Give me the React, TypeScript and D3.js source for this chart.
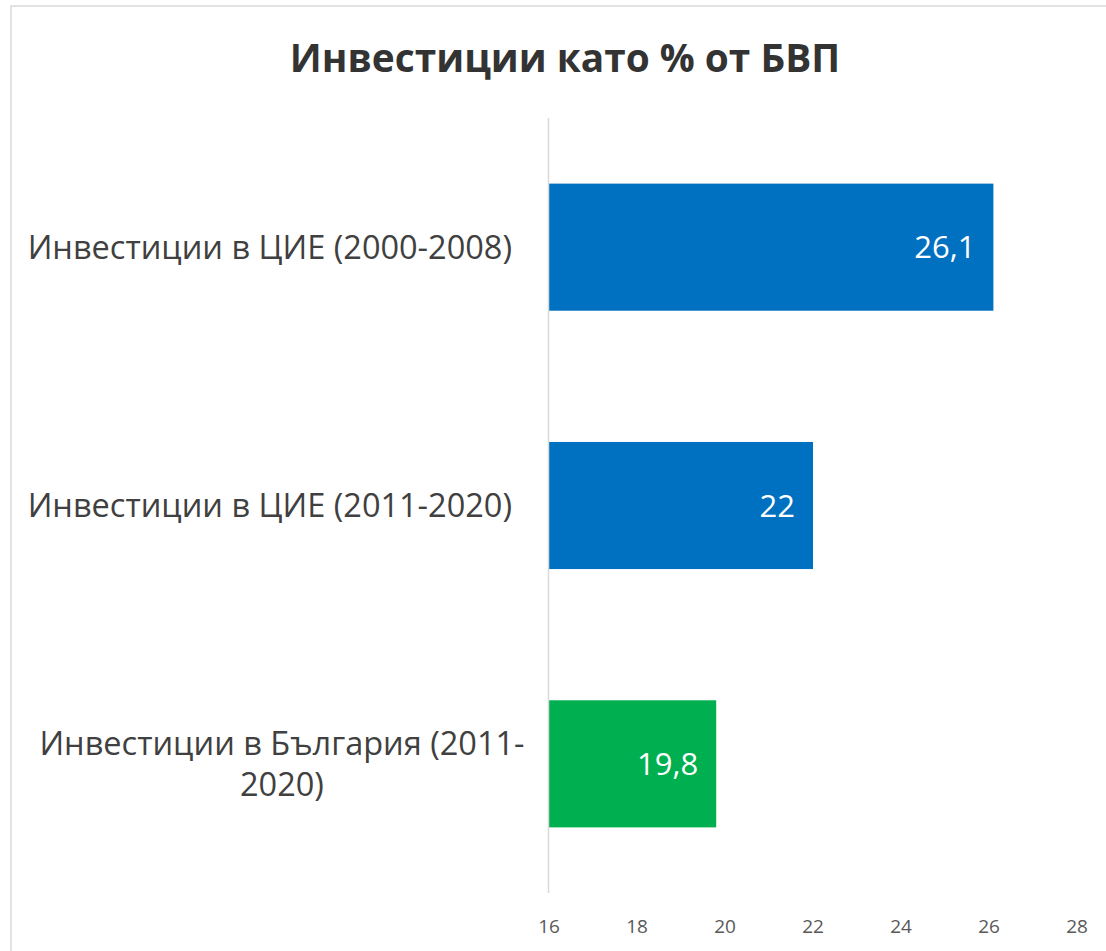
import React from "react";
import * as d3 from "d3";

const title = "Инвестиции като % от БВП";
const categories = [
  "Инвестиции в ЦИЕ (2000-2008)",
  "Инвестиции в ЦИЕ (2011-2020)",
  "Инвестиции в България (2011-2020)",
];
const values = [26.1, 22, 19.8];
const valueLabels = ["26,1", "22", "19,8"];
const barColors = ["#0070C0", "#0070C0", "#00B050"];
const xTicks = [16, 18, 20, 22, 24, 26, 28];

const W = 1106;
const H = 951;
const FONT = "'Open Sans', 'DejaVu Sans', sans-serif";

function wrapLabel(s: string): string[] {
  if (s.length <= 30) return [s];
  const i = s.lastIndexOf("-");
  return [s.slice(0, i + 1), s.slice(i + 1)];
}

export default function App() {
  const x = d3.scaleLinear().domain([16, 28]).range([549, 1077]);
  const y = d3
    .scaleBand<string>()
    .domain(categories)
    .range([118, 893])
    .paddingInner(0.508)
    .paddingOuter(0.254);

  return (
    <svg
      width={W}
      height={H}
      style={{ position: "absolute", left: 0, top: 0, background: "#fff" }}
    >
      <rect x={11} y={6} width={1200} height={1000} fill="#fff" stroke="#d9d9d9" strokeWidth={1.5} />
      <text
        x={565}
        y={72}
        textAnchor="middle"
        fontFamily={FONT}
        fontWeight={700}
        fontSize={38.8}
        fill="#333333"
      >
        {title}
      </text>
      {categories.map((c, i) => {
        const y0 = y(c)!;
        const bw = y.bandwidth();
        const cy = y0 + bw / 2;
        const lines = wrapLabel(c);
        return (
          <g key={c}>
            <rect
              x={x(16)}
              y={y0}
              width={x(values[i]) - x(16)}
              height={bw}
              fill={barColors[i]}
            />
            <text
              x={x(values[i]) - 18}
              y={cy}
              dy="0.36em"
              textAnchor="end"
              fontFamily={FONT}
              fontSize={31}
              fill="#ffffff"
            >
              {valueLabels[i]}
            </text>
            {lines.length === 1 ? (
              <text
                x={512}
                y={cy}
                dy="0.36em"
                textAnchor="end"
                fontFamily={FONT}
                fontSize={32.5}
                fill="#404040"
              >
                {lines[0]}
              </text>
            ) : (
              <text
                x={282}
                y={cy}
                textAnchor="middle"
                fontFamily={FONT}
                fontSize={32.5}
                fill="#404040"
              >
                {lines.map((l, k) => (
                  <tspan
                    key={k}
                    x={282}
                    y={cy + (k - (lines.length - 1) / 2) * 41}
                    dy="0.36em"
                  >
                    {l}
                  </tspan>
                ))}
              </text>
            )}
          </g>
        );
      })}
      <line x1={x(16) - 0.5} x2={x(16) - 0.5} y1={118} y2={893} stroke="#d9d9d9" strokeWidth={1.5} />
      {xTicks.map((t) => (
        <text
          key={t}
          x={x(t)}
          y={933}
          textAnchor="middle"
          fontFamily={FONT}
          fontSize={19}
          fill="#595959"
        >
          {t}
        </text>
      ))}
    </svg>
  );
}
